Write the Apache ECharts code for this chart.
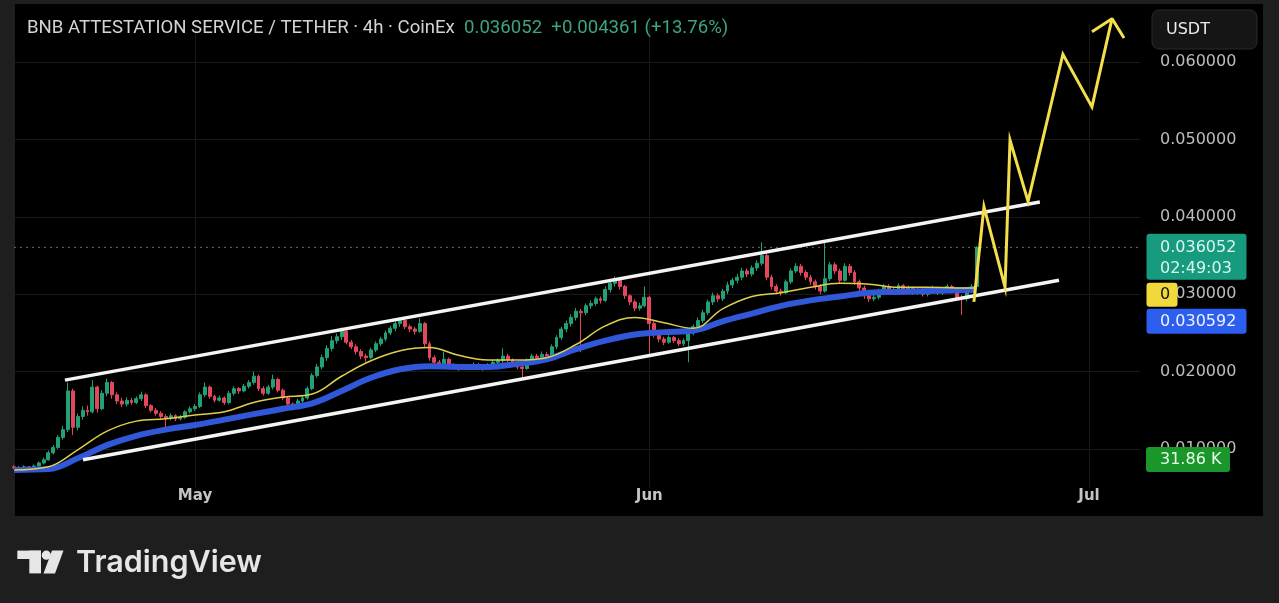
<!DOCTYPE html>
<html>
<head>
<meta charset="utf-8">
<script src="https://cdn.jsdelivr.net/npm/echarts@6/dist/echarts.min.js"></script>
<style>
  html, body { margin: 0; padding: 0; background: #1e1e1e; }
  body { width: 1279px; height: 603px; position: relative; overflow: hidden; }
  .panel { position: absolute; left: 15px; top: 4px; width: 1248px; height: 512px; background: #000; }
  #chart { position: absolute; left: 0; top: 0; width: 1279px; height: 603px; }
</style>
</head>
<body>
<div class="panel"></div>
<div id="chart"></div>
<script>
// texts
const titleText = 'BNB ATTESTATION SERVICE / TETHER · 4h · CoinEx'
const priceText = '0.036052'
const changeText = '+0.004361 (+13.76%)'
const countdownText = '02:49:03'
const maTagText = '0'
const volumeText = '31.86 K'
const currencyText = 'USDT'

// candles, one every 8h, [open, close, low, high]
const firstCandle = '2025-04-18 16:00'
const candleHours = 8
const aprilCandles = [
  [0.0077,0.0076,0.0074,0.0079],[0.0076,0.0075,0.0073,0.0078],[0.0075,0.0077,0.0074,0.0079],
  [0.0077,0.0076,0.0074,0.0078],[0.0076,0.0078,0.0075,0.0080],[0.0078,0.0082,0.0077,0.0084],
  [0.0082,0.0086,0.0080,0.0089],[0.0086,0.0095,0.0085,0.0098],[0.0095,0.0102,0.0093,0.0105],
  [0.0102,0.0115,0.0100,0.0118],[0.0115,0.0125,0.0112,0.0130],[0.0125,0.0175,0.0122,0.0186],
  [0.0175,0.0128,0.0118,0.0178],[0.0128,0.0142,0.0124,0.0146],[0.0142,0.0150,0.0138,0.0155],
  [0.0150,0.0148,0.0143,0.0156],[0.0148,0.0180,0.0146,0.0189],[0.0180,0.0152,0.0147,0.0182],
  [0.0152,0.0172,0.0150,0.0176],[0.0172,0.0186,0.0168,0.0191],[0.0186,0.0170,0.0165,0.0188],
  [0.0170,0.0162,0.0158,0.0173],[0.0162,0.0158,0.0154,0.0166],[0.0158,0.0163,0.0155,0.0167],
  [0.0163,0.0160,0.0157,0.0166],[0.0160,0.0165,0.0158,0.0168],[0.0165,0.0170,0.0162,0.0174],
  [0.0170,0.0156,0.0153,0.0172],[0.0156,0.0150,0.0147,0.0158],[0.0150,0.0146,0.0143,0.0153],
  [0.0146,0.0142,0.0139,0.0149],[0.0142,0.0140,0.0125,0.0145],[0.0140,0.0143,0.0137,0.0146],
  [0.0143,0.0139,0.0136,0.0145],[0.0139,0.0141,0.0137,0.0144],[0.0141,0.0148,0.0139,0.0150],
  [0.0148,0.0152,0.0146,0.0155]
]
const mayCandles = [
  [0.0152,0.0155,0.0149,0.0158],[0.0155,0.0170,0.0153,0.0173],[0.0170,0.0180,0.0167,0.0186],
  [0.0180,0.0168,0.0165,0.0182],[0.0168,0.0163,0.0160,0.0170],[0.0163,0.0166,0.0161,0.0169],
  [0.0166,0.0160,0.0157,0.0168],[0.0160,0.0172,0.0158,0.0175],[0.0172,0.0178,0.0169,0.0181],
  [0.0178,0.0175,0.0171,0.0180],[0.0175,0.0181,0.0173,0.0184],[0.0181,0.0186,0.0178,0.0189],
  [0.0186,0.0194,0.0183,0.0200],[0.0194,0.0178,0.0175,0.0196],[0.0178,0.0172,0.0169,0.0181],
  [0.0172,0.0180,0.0170,0.0183],[0.0180,0.0190,0.0177,0.0196],[0.0190,0.0176,0.0173,0.0192],
  [0.0176,0.0166,0.0163,0.0178],[0.0166,0.0158,0.0155,0.0168],[0.0158,0.0154,0.0150,0.0160],
  [0.0154,0.0162,0.0152,0.0165],[0.0162,0.0166,0.0159,0.0169],[0.0166,0.0178,0.0164,0.0181],
  [0.0178,0.0195,0.0176,0.0198],[0.0195,0.0206,0.0192,0.0210],[0.0206,0.0218,0.0203,0.0222],
  [0.0218,0.0230,0.0214,0.0234],[0.0230,0.0240,0.0226,0.0246],[0.0240,0.0245,0.0236,0.0249],
  [0.0245,0.0252,0.0241,0.0257],[0.0252,0.0238,0.0235,0.0254],[0.0238,0.0232,0.0229,0.0241],
  [0.0232,0.0226,0.0222,0.0235],[0.0226,0.0220,0.0216,0.0229],[0.0220,0.0218,0.0212,0.0223],
  [0.0218,0.0228,0.0216,0.0231],[0.0228,0.0236,0.0225,0.0239],[0.0236,0.0242,0.0233,0.0245],
  [0.0242,0.0250,0.0239,0.0253],[0.0250,0.0256,0.0247,0.0259],[0.0256,0.0262,0.0252,0.0265],
  [0.0262,0.0266,0.0258,0.0270],[0.0266,0.0258,0.0255,0.0268],[0.0258,0.0255,0.0251,0.0261],
  [0.0255,0.0252,0.0248,0.0258],[0.0252,0.0262,0.0250,0.0269],[0.0262,0.0236,0.0232,0.0264],
  [0.0236,0.0218,0.0214,0.0239],[0.0218,0.0212,0.0208,0.0221],[0.0212,0.0210,0.0206,0.0215],
  [0.0210,0.0216,0.0207,0.0226],[0.0216,0.0206,0.0203,0.0218],[0.0206,0.0208,0.0203,0.0211],
  [0.0208,0.0204,0.0201,0.0210],[0.0204,0.0207,0.0202,0.0210],[0.0207,0.0205,0.0202,0.0209],
  [0.0205,0.0209,0.0203,0.0212],[0.0209,0.0206,0.0203,0.0211],[0.0206,0.0204,0.0201,0.0208],
  [0.0204,0.0208,0.0202,0.0211],[0.0208,0.0212,0.0206,0.0215],[0.0212,0.0214,0.0209,0.0217],
  [0.0214,0.0220,0.0211,0.0230],[0.0220,0.0215,0.0212,0.0223],[0.0215,0.0210,0.0207,0.0217],
  [0.0210,0.0206,0.0203,0.0212],[0.0206,0.0204,0.0193,0.0208],[0.0204,0.0214,0.0202,0.0217],
  [0.0214,0.0220,0.0211,0.0223],[0.0220,0.0218,0.0215,0.0223],[0.0218,0.0222,0.0216,0.0226],
  [0.0222,0.0220,0.0217,0.0225],[0.0220,0.0232,0.0218,0.0235],[0.0232,0.0244,0.0229,0.0247],
  [0.0244,0.0255,0.0241,0.0258],[0.0255,0.0262,0.0251,0.0266],[0.0262,0.0270,0.0258,0.0274],
  [0.0270,0.0278,0.0266,0.0282],[0.0278,0.0276,0.0225,0.0281],[0.0276,0.0285,0.0273,0.0288],
  [0.0285,0.0288,0.0281,0.0292],[0.0288,0.0294,0.0285,0.0297],[0.0294,0.0292,0.0288,0.0297],
  [0.0292,0.0306,0.0290,0.0310],[0.0306,0.0314,0.0302,0.0318],[0.0314,0.0318,0.0310,0.0323],
  [0.0318,0.0310,0.0306,0.0321],[0.0310,0.0298,0.0294,0.0312],[0.0298,0.0290,0.0286,0.0300],
  [0.0290,0.0282,0.0278,0.0293],[0.0282,0.0285,0.0279,0.0289],[0.0285,0.0296,0.0283,0.0310]
]
const juneCandles = [
  [0.0296,0.0262,0.0222,0.0298],[0.0262,0.0248,0.0244,0.0265],[0.0248,0.0242,0.0238,0.0251],
  [0.0242,0.0238,0.0234,0.0245],[0.0238,0.0244,0.0236,0.0247],[0.0244,0.0240,0.0237,0.0246],
  [0.0240,0.0236,0.0233,0.0243],[0.0236,0.0240,0.0233,0.0243],[0.0240,0.0250,0.0212,0.0253],
  [0.0250,0.0258,0.0247,0.0261],[0.0258,0.0266,0.0255,0.0270],[0.0266,0.0276,0.0263,0.0280],
  [0.0276,0.0290,0.0273,0.0293],[0.0290,0.0298,0.0286,0.0302],[0.0298,0.0294,0.0290,0.0301],
  [0.0294,0.0304,0.0291,0.0307],[0.0304,0.0312,0.0300,0.0316],[0.0312,0.0318,0.0308,0.0321],
  [0.0318,0.0322,0.0314,0.0326],[0.0322,0.0330,0.0318,0.0334],[0.0330,0.0326,0.0322,0.0333],
  [0.0326,0.0334,0.0323,0.0337],[0.0334,0.0340,0.0330,0.0344],[0.0340,0.0350,0.0337,0.0367],
  [0.0350,0.0322,0.0318,0.0353],[0.0322,0.0310,0.0306,0.0325],[0.0310,0.0304,0.0300,0.0313],
  [0.0304,0.0302,0.0298,0.0307],[0.0302,0.0316,0.0300,0.0319],[0.0316,0.0330,0.0313,0.0333],
  [0.0330,0.0336,0.0327,0.0340],[0.0336,0.0328,0.0324,0.0339],[0.0328,0.0322,0.0318,0.0331],
  [0.0322,0.0316,0.0312,0.0325],[0.0316,0.0310,0.0306,0.0319],[0.0310,0.0304,0.0300,0.0313],
  [0.0304,0.0320,0.0302,0.0366],[0.0320,0.0338,0.0317,0.0342],[0.0338,0.0330,0.0326,0.0341],
  [0.0330,0.0318,0.0314,0.0333],[0.0318,0.0336,0.0316,0.0340],[0.0336,0.0328,0.0324,0.0339],
  [0.0328,0.0316,0.0312,0.0331],[0.0316,0.0308,0.0304,0.0319],[0.0308,0.0298,0.0294,0.0311],
  [0.0298,0.0294,0.0290,0.0301],[0.0294,0.0296,0.0291,0.0300],[0.0296,0.0304,0.0293,0.0307],
  [0.0304,0.0310,0.0301,0.0313],[0.0310,0.0302,0.0299,0.0313],[0.0302,0.0306,0.0299,0.0309],
  [0.0306,0.0311,0.0303,0.0314],[0.0311,0.0304,0.0301,0.0313],[0.0304,0.0308,0.0301,0.0311],
  [0.0308,0.0302,0.0299,0.0310],[0.0302,0.0306,0.0299,0.0309],[0.0306,0.0300,0.0297,0.0308],
  [0.0300,0.0304,0.0297,0.0307],[0.0304,0.0308,0.0301,0.0311],[0.0308,0.0302,0.0299,0.0310],
  [0.0302,0.0306,0.0299,0.0309],[0.0306,0.0310,0.0303,0.0313],[0.0310,0.0304,0.0301,0.0312],
  [0.0304,0.0296,0.0293,0.0306],[0.0296,0.0294,0.0273,0.0299],[0.0294,0.0305,0.0291,0.0308],
  [0.0305,0.0310,0.0302,0.0313],[0.0310,0.036052,0.0307,0.0362]
]

// moving averages, read every two days
const maDates = ['2025-04-18 16:00','2025-04-21','2025-04-23','2025-04-25','2025-04-27','2025-04-29',
  '2025-05-01','2025-05-03','2025-05-05','2025-05-07','2025-05-09','2025-05-11','2025-05-13','2025-05-15',
  '2025-05-17','2025-05-19','2025-05-21','2025-05-23','2025-05-25','2025-05-27','2025-05-29','2025-05-31',
  '2025-06-02','2025-06-04','2025-06-06','2025-06-08','2025-06-10','2025-06-12','2025-06-14','2025-06-16',
  '2025-06-18','2025-06-20','2025-06-22','2025-06-23 08:00']
const fastMa = [0.0073,0.0077,0.0099,0.0123,0.0136,0.0139,0.0144,0.0148,0.0160,0.0167,0.0171,0.0194,
  0.0214,0.0227,0.0231,0.0221,0.0215,0.0215,0.0218,0.0235,0.0259,0.0270,0.0263,0.0256,0.0281,0.0297,
  0.0302,0.0309,0.0314,0.0313,0.0309,0.0309,0.0308,0.0308]
const slowMa = [0.0073,0.0074,0.0088,0.0105,0.0117,0.0125,0.0131,0.0138,0.0145,0.0152,0.0159,0.0175,
  0.0192,0.0203,0.0207,0.0206,0.0206,0.0210,0.0216,0.0229,0.0240,0.0248,0.0251,0.0253,0.0265,0.0275,
  0.0285,0.0292,0.0297,0.0302,0.0303,0.0304,0.0305,0.0306]
const slowMaLast = 0.030592

// drawn channel
const upperDates = ['2025-04-22 03:00', '2025-06-27 15:30']
const upperValues = [0.0189, 0.0419]
const lowerDates = ['2025-04-23 08:40', '2025-06-28 22:50']
const lowerValues = [0.0086, 0.0318]

// projected path and arrow head
const pathDates = ['2025-06-23 03:30','2025-06-23 20:00','2025-06-25 06:30','2025-06-25 14:40',
  '2025-06-26 20:10','2025-06-29 05:15','2025-07-01 04:50','2025-07-02 13:40']
const pathValues = [0.0290, 0.0413, 0.0309, 0.0499, 0.0420, 0.0610, 0.0542, 0.0656]
const arrowDates = ['2025-07-01 04:50', '2025-07-02 13:40', '2025-07-03 09:20']
const arrowValues = [0.0639, 0.0656, 0.0631]

// axes
const monthDates = ['2025-05-01', '2025-06-01', '2025-07-01']
const monthLabels = ['May', 'Jun', 'Jul']
const priceTicks = [0.01, 0.02, 0.03, 0.04, 0.05, 0.06]

const ts = s => {
  const [d, t = '00:00'] = s.split(' ')
  const [y, m, dd] = d.split('-').map(Number)
  const [h, mi] = t.split(':').map(Number)
  return new Date(y, m - 1, dd, h, mi).getTime()
}
const pairs = (dates, vals) => dates.map((d, i) => [ts(d), vals[i]])

const candles = aprilCandles.concat(mayCandles, juneCandles)
const t0 = ts(firstCandle)
const candleData = candles.map((c, i) => [t0 + i * candleHours * 3600000, c[0], c[1], c[2], c[3]])
const lastClose = candles[candles.length - 1][1]
const monthTimes = monthDates.map(ts)
const xMin = ts('2025-04-18 15:36')
const xMax = ts('2025-07-04 11:30')

const axisFont = 'DejaVu Sans'
const chart = echarts.init(document.getElementById('chart'))

chart.setOption({
  backgroundColor: 'transparent',
  animation: false,
  grid: { left: 14, right: 139, top: 23.3, bottom: 115.3 },
  xAxis: {
    type: 'value',
    min: xMin,
    max: xMax,
    axisLine: { show: false },
    axisTick: { show: false, customValues: monthTimes },
    splitLine: { show: true, lineStyle: { color: '#191919', width: 1 } },
    axisLabel: {
      customValues: monthTimes,
      formatter: v => monthLabels[monthTimes.indexOf(v)] || '',
      color: '#c4c4c4',
      fontFamily: axisFont,
      fontSize: 15,
      fontWeight: 'bold',
      margin: 1
    }
  },
  yAxis: {
    type: 'value',
    position: 'right',
    min: 0.005,
    max: 0.065,
    axisLine: { show: false },
    axisTick: { show: false, customValues: priceTicks },
    splitLine: { show: true, lineStyle: { color: '#191919', width: 1 } },
    axisLabel: {
      customValues: priceTicks,
      formatter: v => v.toFixed(6),
      color: '#bdbdbd',
      fontFamily: axisFont,
      fontSize: 16,
      margin: 20
    }
  },
  series: [
    {
      // last price, dotted
      type: 'line',
      data: [[xMin, lastClose], [xMax, lastClose]],
      symbol: 'none',
      silent: true,
      z: 1,
      lineStyle: { color: '#6c6c6c', type: [2, 4], width: 1 }
    },
    {
      type: 'candlestick',
      data: candleData,
      encode: { x: 0, y: [1, 2, 3, 4] },
      barWidth: 3.4,
      z: 2,
      itemStyle: {
        color: '#22a176', color0: '#e2475b',
        borderColor: '#22a176', borderColor0: '#e2475b', borderWidth: 1
      }
    },
    {
      type: 'line',
      data: pairs(maDates, slowMa),
      smooth: 0.4,
      symbol: 'none',
      z: 3,
      lineStyle: { color: '#3058d8', width: 6 }
    },
    {
      type: 'line',
      data: pairs(maDates, fastMa),
      smooth: 0.4,
      symbol: 'none',
      z: 4,
      lineStyle: { color: '#e0cf4a', width: 1.5 }
    },
    {
      type: 'line',
      data: pairs(upperDates, upperValues),
      symbol: 'none',
      z: 5,
      lineStyle: { color: '#f4f4f4', width: 3.5 }
    },
    {
      type: 'line',
      data: pairs(lowerDates, lowerValues),
      symbol: 'none',
      z: 5,
      lineStyle: { color: '#f4f4f4', width: 3.5 }
    },
    {
      type: 'line',
      data: pairs(pathDates, pathValues),
      symbol: 'none',
      clip: false,
      z: 6,
      lineStyle: { color: '#f3df4c', width: 3, join: 'miter' }
    },
    {
      type: 'line',
      data: pairs(arrowDates, arrowValues),
      symbol: 'none',
      clip: false,
      z: 6,
      lineStyle: { color: '#f3df4c', width: 3 }
    }
  ]
})

// price tags on the scale, stacked under the last price
const py = chart.convertToPixel({ yAxisIndex: 0 }, lastClose)
const tagX = 1146.5
const textX = 1160
const tagFont = '16px "DejaVu Sans"'
const greenTop = py - 13.5
const yellowTop = greenTop + 46 + 3
const blueTop = yellowTop + 24 + 2

const tag = (x, y, w, h, fill) => ({ type: 'rect', z: 100, shape: { x, y, width: w, height: h, r: 3 }, style: { fill } })
const label = (text, x, y, fill, font) => ({
  type: 'text', z: 101,
  style: { text, x, y, fill, font: font || tagFont, verticalAlign: 'middle' }
})

chart.setOption({
  graphic: [
    {
      type: 'text', z: 100,
      style: {
        x: 27, y: 28.5, verticalAlign: 'middle',
        text: '{w|' + titleText + '}{g|  ' + priceText + '  ' + changeText + '}',
        rich: {
          w: { fill: '#d4d4d4', font: '18.6px Roboto' },
          g: { fill: '#3da383', font: '18.6px Roboto' }
        }
      }
    },
    { type: 'rect', z: 100, shape: { x: 1152, y: 10, width: 105, height: 39, r: 7 }, style: { fill: '#151515', stroke: '#2b2b2b', lineWidth: 1 } },
    label(currencyText, 1166, 30, '#ececec'),

    tag(tagX, greenTop, 100, 46, '#179b7f'),
    label(priceText, textX, py, '#d9f6ee'),
    label(countdownText, textX, py + 21, '#d9f6ee'),
    tag(tagX, yellowTop, 31, 24, '#f1d93b'),
    label(maTagText, textX, yellowTop + 12, '#111111'),
    tag(tagX, blueTop, 100, 25, '#2c5ff0'),
    label(slowMaLast.toFixed(6), textX, blueTop + 12.5, '#eef2ff'),
    tag(tagX - 0.5, 447, 84, 25, '#1b962b'),
    label(volumeText, textX, 459.5, '#eaffea'),

    { type: 'rect', z: 100, shape: { x: 17.3, y: 550.6, width: 23.7, height: 8.4 }, style: { fill: '#e6e6e6' } },
    { type: 'rect', z: 100, shape: { x: 29.3, y: 550.6, width: 11.7, height: 22.8 }, style: { fill: '#e6e6e6' } },
    { type: 'circle', z: 100, shape: { cx: 46.3, cy: 555.2, r: 4.6 }, style: { fill: '#e6e6e6' } },
    { type: 'polygon', z: 100, shape: { points: [[52, 550.6], [63.5, 550.6], [55, 573.4], [43.5, 573.4]] }, style: { fill: '#e6e6e6' } },
    label('TradingView', 76, 563, '#e6e6e6', '600 30.5px Inter')
  ]
})
</script>
</body>
</html>
